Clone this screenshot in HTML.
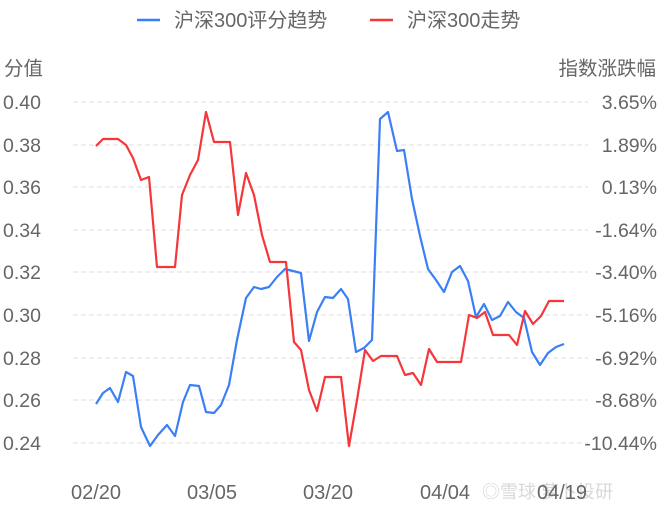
<!DOCTYPE html>
<html><head><meta charset="utf-8"><style>
html,body{margin:0;padding:0;background:#fff;}
svg text{font-family:"Liberation Sans","Noto Sans CJK SC",sans-serif;fill:#666;}
</style></head><body>
<svg width="660" height="508" viewBox="0 0 660 508" xmlns="http://www.w3.org/2000/svg">
<g stroke="#ddd" stroke-dasharray="5,3" stroke-width="1">
<line x1="73" x2="588" y1="102" y2="102"/><line x1="73" x2="588" y1="145" y2="145"/>
<line x1="73" x2="588" y1="187" y2="187"/><line x1="73" x2="588" y1="230" y2="230"/>
<line x1="73" x2="588" y1="272" y2="272"/><line x1="73" x2="588" y1="315" y2="315"/>
<line x1="73" x2="588" y1="358" y2="358"/><line x1="73" x2="588" y1="400" y2="400"/>
<line x1="73" x2="588" y1="443" y2="443"/>
</g>
<line x1="137" x2="160" y1="20" y2="20" stroke="#3b7ff5" stroke-width="2.5"/>
<text x="174" y="27" font-size="20">沪深300评分趋势</text>
<line x1="370" x2="393" y1="20" y2="20" stroke="#f5363a" stroke-width="2.5"/>
<text x="407" y="27" font-size="20">沪深300走势</text>
<text x="4" y="75" font-size="19.5">分值</text>
<text x="656" y="75" font-size="19.5" text-anchor="end">指数涨跌幅</text>
<g font-size="19.5">
<text x="3" y="109">0.40</text><text x="3" y="152">0.38</text><text x="3" y="194">0.36</text>
<text x="3" y="237">0.34</text><text x="3" y="279">0.32</text><text x="3" y="322">0.30</text>
<text x="3" y="365">0.28</text><text x="3" y="407">0.26</text><text x="3" y="450">0.24</text>
</g>
<g font-size="19.5" text-anchor="end">
<text x="657" y="109">3.65%</text><text x="657" y="152">1.89%</text><text x="657" y="194">0.13%</text>
<text x="657" y="237">-1.64%</text><text x="657" y="279">-3.40%</text><text x="657" y="322">-5.16%</text>
<text x="657" y="365">-6.92%</text><text x="657" y="407">-8.68%</text><text x="657" y="450">-10.44%</text>
</g>
<text x="482" y="498" font-size="18" style="fill:#d8d8d8">◎雪球  萝卜投研</text>
<g font-size="20" text-anchor="middle">
<text x="96" y="499">02/20</text><text x="212" y="499">03/05</text><text x="328" y="499">03/20</text>
<text x="445" y="499">04/04</text><text x="562" y="499">04/19</text>
</g>
<polyline fill="none" stroke="#3b7ff5" stroke-width="2.2" stroke-linejoin="round" points="96,404 103,393 110,388 118,402 126,372 133,376 141,427 150,446 158,435 167,425 175,436 183,402 190,385 199,386 206,412 214,413 221,405 229,385 237,340 246,298 254,287 261,289 269,287 277,277 285,269 293,271 301,273 309,341 317,312 325,297 333,298 341,289 348,299 356,352 364,348 372,340 380,119 388,112 397,151 404,150 412,199 420,236 428,269 436,280 444,292 452,272 460,266 468,281 476,317 484,304 492,320 500,316 508,302 516,312 524,318 532,352 540,365 548,353 556,347 564,344"/>
<polyline fill="none" stroke="#f5363a" stroke-width="2.2" stroke-linejoin="round" points="96,146 103,139 110,139 118,139 126,145 133,158 141,180 149,177 157,267 165,267 175,267 182,195 190,175 198,160 206,112 214,142 222,142 230,142 238,215 246,173 254,195 262,235 270,262 278,262 286,262 294,342 301,350 309,390 317,411 325,377 333,377 341,377 349,446 357,400 365,350 373,361 381,356 389,356 397,356 405,375 413,373 421,385 429,349 437,362 445,362 453,362 461,362 469,315 477,318 485,312 493,335 501,335 509,335 517,345 525,311 533,324 541,316 549,301 557,301 564,301"/>
</svg>
</body></html>
